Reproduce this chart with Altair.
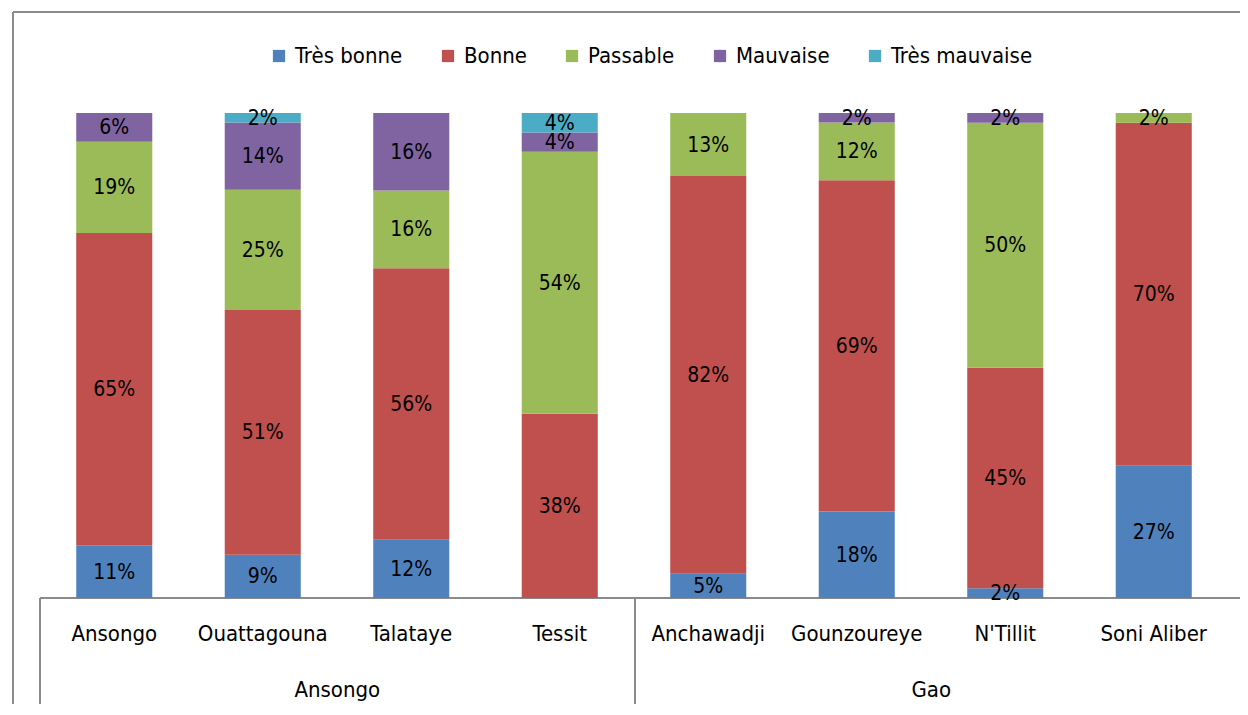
import altair as alt
import pandas as pd

FONT = "Liberation Sans Narrow, DejaVu Sans Condensed, Roboto, sans-serif"

districts = ["Ansongo", "Ouattagouna", "Talataye", "Tessit",
             "Anchawadji", "Gounzoureye", "N'Tillit", "Soni Aliber"]
groups = ["Ansongo", "Gao"]
group_anchor = ["Talataye", "N'Tillit"]
categories = ["Très bonne", "Bonne", "Passable", "Mauvaise", "Très mauvaise"]
colors = ["#4F81BD", "#C0504D", "#9BBB59", "#8064A2", "#4BACC6"]

tres_bonne = [11, 9, 12, 0, 5, 18, 2, 27]
bonne = [65, 51, 56, 38, 82, 69, 45, 70]
passable = [19, 25, 16, 54, 13, 12, 50, 2]
mauvaise = [6, 14, 16, 4, 0, 2, 2, 0]
tres_mauvaise = [0, 2, 0, 4, 0, 0, 0, 0]

series = [tres_bonne, bonne, passable, mauvaise, tres_mauvaise]
rows = []
for ci, (cat, vals) in enumerate(zip(categories, series)):
    for d, v in zip(districts, vals):
        rows.append({"district": d, "category": cat, "order": ci, "value": v})
df = pd.DataFrame(rows)

W, H = 1188, 485

xscale = alt.Scale(domain=districts, paddingInner=0.488, paddingOuter=0.244)
X = alt.X("district:N", sort=districts, scale=xscale, axis=None)

base = (
    alt.Chart(df)
    .transform_filter("datum.value > 0")
    .transform_stack(stack="value", groupby=["district"], as_=["y0", "y1"],
                     offset="normalize", sort=[alt.SortField("order", order="ascending")])
    .transform_calculate(mid="(datum.y0 + datum.y1) / 2", label="datum.value + '%'")
)

bars = base.mark_bar().encode(
    x=X,
    y=alt.Y("y0:Q", scale=alt.Scale(domain=[0, 1]), axis=None),
    y2="y1:Q",
    color=alt.Color(
        "category:N",
        scale=alt.Scale(domain=categories, range=colors),
        legend=alt.Legend(
            title=None, orient="none", direction="horizontal",
            legendX=228, legendY=-68,
            symbolType="square", symbolSize=150, symbolStrokeWidth=0,
            labelFont=FONT, labelFontSize=22, labelColor="#000000",
            labelOffset=5, columnPadding=34, labelLimit=400,
        ),
    ),
)

labels = base.mark_text(font=FONT, fontSize=21, color="#000000", baseline="middle", dy=1).encode(
    x=X,
    y=alt.Y("mid:Q", scale=alt.Scale(domain=[0, 1]), axis=None),
    text="label:N",
)

cat_df = pd.DataFrame({"district": districts})
cat_labels = alt.Chart(cat_df).mark_text(font=FONT, fontSize=22, color="#000000", baseline="middle").encode(
    x=X, y=alt.value(H + 36), text="district:N"
)

grp_df = pd.DataFrame({"group": groups, "anchor": group_anchor})
grp_labels = alt.Chart(grp_df).mark_text(font=FONT, fontSize=22, color="#000000",
                                          baseline="middle", dx=-74).encode(
    x=alt.X("anchor:N", sort=districts, scale=xscale, axis=None),
    y=alt.value(H + 92), text="group:N"
)

line_color = "#8a8a8a"
hline = alt.Chart(cat_df).mark_rule(color=line_color, strokeWidth=1).encode(
    x=alt.value(0), x2=alt.value(W + 20), y=alt.value(H)
)
vline_left = alt.Chart(cat_df).mark_rule(color=line_color, strokeWidth=1).encode(
    x=alt.value(0), y=alt.value(H), y2=alt.value(H + 120)
)
vline_mid = alt.Chart(cat_df).mark_rule(color=line_color, strokeWidth=1).encode(
    x=alt.value(W / 2 + 1), y=alt.value(H), y2=alt.value(H + 120)
)
frame_top = alt.Chart(cat_df).mark_rule(color="#8c8c8c", strokeWidth=2).encode(
    x=alt.value(-27), x2=alt.value(W + 30), y=alt.value(-101)
)
frame_left = alt.Chart(cat_df).mark_rule(color="#8c8c8c", strokeWidth=2).encode(
    x=alt.value(-27), y=alt.value(-101), y2=alt.value(H + 120)
)

chart = (
    alt.layer(frame_top, frame_left, hline, vline_left, vline_mid, bars, labels, cat_labels, grp_labels)
    .properties(width=W, height=H, autosize=alt.AutoSizeParams(type="none"),
                padding={"left": 32, "top": 105, "right": 12, "bottom": 106},
                background="white")
    .configure_view(stroke=None)
)

chart.save("out.html", embed_options={"renderer": "svg", "actions": False})
